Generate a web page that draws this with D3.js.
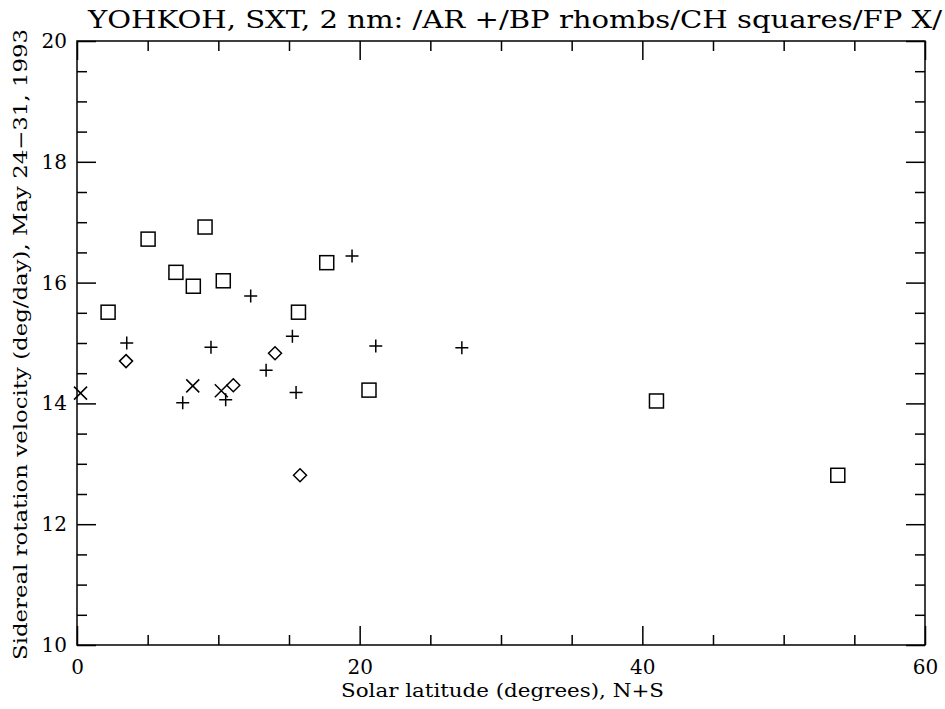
<!DOCTYPE html>
<html><head><meta charset="utf-8">
<script src="https://cdn.jsdelivr.net/npm/d3@7"></script>
<style>body{margin:0;background:#fff}svg{display:block}text{font-family:"DejaVu Serif",serif;fill:#000}</style>
</head><body>
<script>
// Data
const arPlus = [[3.52,15.0],[7.48,14.01],[9.48,14.93],[10.52,14.06],[12.29,15.78],[13.38,14.55],[15.24,15.11],[15.5,14.18],[19.46,16.44],[21.14,14.95],[27.23,14.92]];
const bpRhombs = [[3.47,14.70],[11.06,14.30],[14.01,14.83],[15.78,12.81]];
const chSquares = [[2.2,15.51],[5.03,16.72],[7.0,16.17],[8.23,15.94],[9.06,16.92],[10.35,16.03],[15.67,15.51],[17.67,16.33],[20.66,14.22],[41.0,14.04],[53.83,12.81]];
const fpX = [[0.25,14.17],[8.19,14.29],[10.21,14.21]];
const xMajorTicks = [0,20,40,60];
const xMinorTicks = [5,10,15,25,30,35,45,50,55];
const yMajorTicks = [10,12,14,16,18,20];
const yMinorTicks = [10.5,11,11.5,12.5,13,13.5,14.5,15,15.5,16.5,17,17.5,18.5,19,19.5];
const titleText = "YOHKOH, SXT, 2 nm: /AR +/BP rhombs/CH squares/FP X/";
const xLabel = "Solar latitude (degrees), N+S";
const yLabel = "Sidereal rotation velocity (deg/day), May 24\u221231, 1993";

const W = 945, H = 709;
const L = 77, R = 925, T = 41, B = 645;
const svg = d3.select("body").append("svg").attr("width", W).attr("height", H);
const x = d3.scaleLinear().domain([0,60]).range([L,R]);
const y = d3.scaleLinear().domain([10,20]).range([B,T]);

function styleAxis(g){
  g.select(".domain").remove();
  g.selectAll("line").attr("stroke","#000").attr("stroke-width",1.5);
  g.selectAll("text").style("font-size","20px").style("font-family","DejaVu Serif, serif");
}
// bottom
svg.append("g").attr("transform",`translate(0,${B})`)
  .call(d3.axisBottom(x).tickValues(xMajorTicks).tickSize(-19).tickPadding(15).tickFormat(d3.format("d"))).call(styleAxis);
svg.append("g").attr("transform",`translate(0,${B})`)
  .call(d3.axisBottom(x).tickValues(xMinorTicks).tickSize(-10).tickFormat("")).call(styleAxis);
// top
svg.append("g").attr("transform",`translate(0,${T})`)
  .call(d3.axisTop(x).tickValues(xMajorTicks).tickSize(-19).tickFormat("")).call(styleAxis);
svg.append("g").attr("transform",`translate(0,${T})`)
  .call(d3.axisTop(x).tickValues(xMinorTicks).tickSize(-10).tickFormat("")).call(styleAxis);
// left
svg.append("g").attr("transform",`translate(${L},0)`)
  .call(d3.axisLeft(y).tickValues(yMajorTicks).tickSize(-19).tickPadding(10).tickFormat(d3.format("d"))).call(styleAxis);
svg.append("g").attr("transform",`translate(${L},0)`)
  .call(d3.axisLeft(y).tickValues(yMinorTicks).tickSize(-10).tickFormat("")).call(styleAxis);
// right
svg.append("g").attr("transform",`translate(${R},0)`)
  .call(d3.axisRight(y).tickValues(yMajorTicks).tickSize(-19).tickFormat("")).call(styleAxis);
svg.append("g").attr("transform",`translate(${R},0)`)
  .call(d3.axisRight(y).tickValues(yMinorTicks).tickSize(-10).tickFormat("")).call(styleAxis);

// frame
svg.append("rect").attr("x",L).attr("y",T).attr("width",R-L).attr("height",B-T)
  .attr("fill","none").attr("stroke","#000").attr("stroke-width",1.5);

const mk = svg.append("g").attr("fill","none").attr("stroke","#000").attr("stroke-width",1.5);
// AR plus
mk.selectAll(".p").data(arPlus).join("path")
  .attr("d",d=>{const cx=x(d[0]),cy=y(d[1]),s=6.5;return `M${cx-s},${cy}H${cx+s}M${cx},${cy-s}V${cy+s}`;});
// BP rhombs
mk.selectAll(".r").data(bpRhombs).join("path")
  .attr("d",d=>{const cx=x(d[0]),cy=y(d[1]),s=6.5;return `M${cx},${cy-s}L${cx+s},${cy}L${cx},${cy+s}L${cx-s},${cy}Z`;});
// CH squares
mk.selectAll(".s").data(chSquares).join("rect")
  .attr("x",d=>x(d[0])-7).attr("y",d=>y(d[1])-7).attr("width",14).attr("height",14);
// FP X
mk.selectAll(".x").data(fpX).join("path")
  .attr("d",d=>{const cx=x(d[0]),cy=y(d[1]),s=6.5;return `M${cx-s},${cy-s}L${cx+s},${cy+s}M${cx-s},${cy+s}L${cx+s},${cy-s}`;});

// texts
svg.append("text").attr("x",88).attr("y",28).attr("textLength",854).attr("lengthAdjust","spacingAndGlyphs")
  .style("font-size","25px").text(titleText);
svg.append("text").attr("x",341).attr("y",697).attr("textLength",323).attr("lengthAdjust","spacingAndGlyphs")
  .style("font-size","19px").text(xLabel);
svg.append("text").attr("transform","translate(27,660) rotate(-90)").attr("textLength",631).attr("lengthAdjust","spacingAndGlyphs")
  .style("font-size","19px").text(yLabel);
</script>
</body></html>
